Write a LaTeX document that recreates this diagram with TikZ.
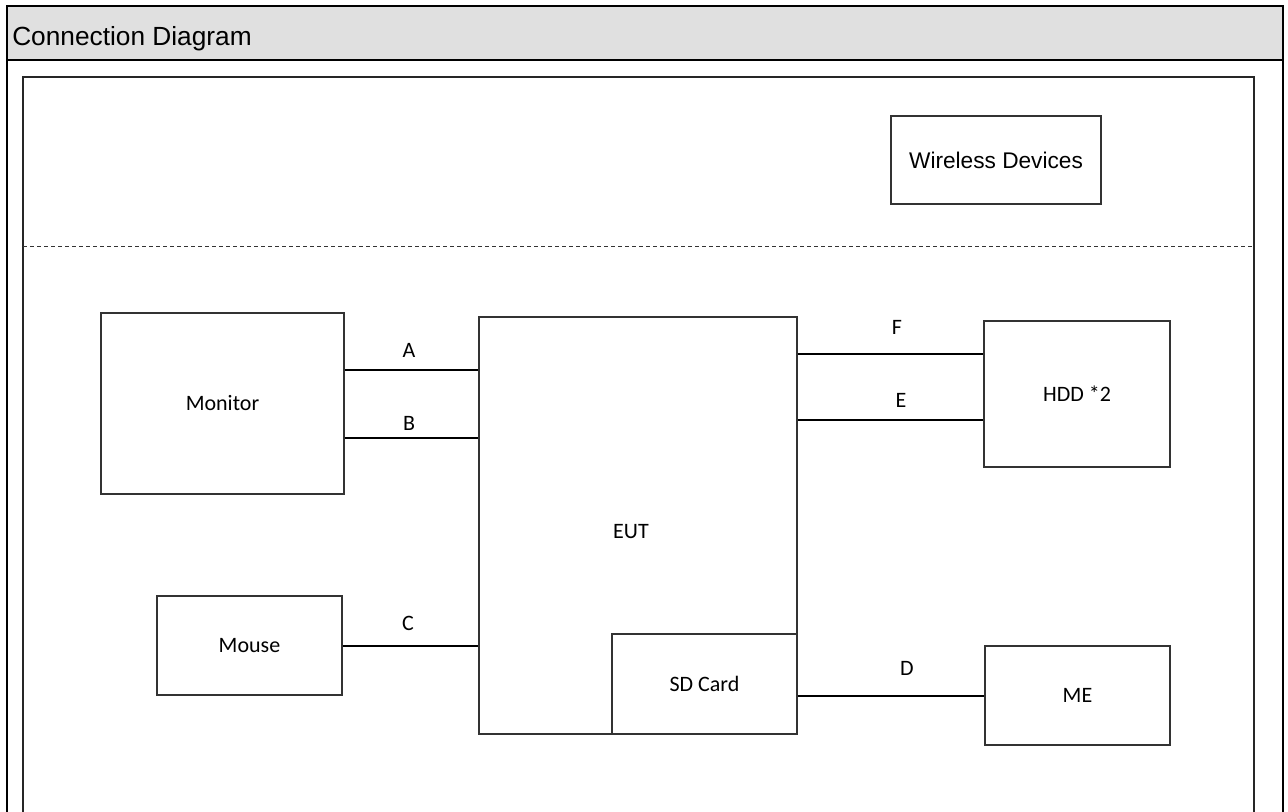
\documentclass[tikz,border=0pt]{standalone}
\usepackage{fontspec}
\setmainfont{Carlito}
\newfontfamily\arialfont{Liberation Sans}
\definecolor{hdrgray}{HTML}{E0E0E0}
\definecolor{boxgray}{HTML}{333333}
\begin{document}
\begin{tikzpicture}[x=0.75pt,y=-0.75pt,
  box/.style={draw=boxgray,line width=0.8pt,rectangle,inner sep=0pt,font=\fontsize{16.5pt}{18pt}\selectfont},
  conn/.style={draw=black,line width=0.8pt},
  lbl/.style={inner sep=0pt,font=\fontsize{16.5pt}{18pt}\selectfont}]
\useasboundingbox (0,0) rectangle (1288,812);
\clip (0,0) rectangle (1288,812);
% header and frames
\fill[hdrgray] (7,6) rectangle (1283,60);
\draw[line width=2pt] (7,6) rectangle (1283,840);
\draw[line width=2pt] (7,60) -- (1283,60);
\node[anchor=base west,inner sep=0pt,font=\arialfont\fontsize{19.7pt}{22pt}\selectfont] (title) at (12,46) {Connection Diagram};
\draw[line width=1.5pt,draw=black!85] (23,77) rectangle (1254,840);
% dashed separator
\coordinate (dl) at (23,246);
\coordinate (dr) at (1254,246);
\draw[draw=black!80,line width=0.7pt,dash pattern=on 3pt off 2.25pt] (dl) -- (dr);
% boxes
\node[box,minimum width=157.5pt,minimum height=66pt,font=\arialfont\fontsize{17pt}{19pt}\selectfont] (wd) at (996,160) {Wireless Devices};
\node[box,minimum width=182.25pt,minimum height=135.75pt] (mon) at (222.5,403.5) {Monitor};
\node[box,minimum width=238.5pt,minimum height=312.75pt] (eut) at (638,525.5) {};
\node[lbl] (eutl) at (631,532) {EUT};
\node[box,minimum width=138.75pt,minimum height=75pt] (sd) at (704.5,684) {SD Card};
\node[box,minimum width=139.5pt,minimum height=109.5pt] (hdd) at (1077,394) {HDD *2};
\node[box,minimum width=138.75pt,minimum height=74.25pt] (mouse) at (249.5,645.5) {Mouse};
\node[box,minimum width=138.75pt,minimum height=74.25pt] (me) at (1077.5,695.5) {ME};
% connector levels
\coordinate (yA) at (0,370);
\coordinate (yB) at (0,438);
\coordinate (yC) at (0,646);
\coordinate (yF) at (0,354);
\coordinate (yE) at (0,420);
\coordinate (yD) at (0,696);
\draw[conn] (mon.east |- yA) -- (eut.west |- yA);
\draw[conn] (mon.east |- yB) -- (eut.west |- yB);
\draw[conn] (mouse.east |- yC) -- (eut.west |- yC);
\draw[conn] (eut.east |- yF) -- (hdd.west |- yF);
\draw[conn] (eut.east |- yE) -- (hdd.west |- yE);
\draw[conn] (sd.east |- yD) -- (me.west |- yD);
% connector labels
\node[lbl] (la) at (409,350) {A};
\node[lbl] (lb) at (409,423) {B};
\node[lbl] (lc) at (408,623) {C};
\node[lbl] (lf) at (897,327) {F};
\node[lbl] (le) at (901,400) {E};
\node[lbl] (ld) at (907,668) {D};
\end{tikzpicture}
\end{document}
